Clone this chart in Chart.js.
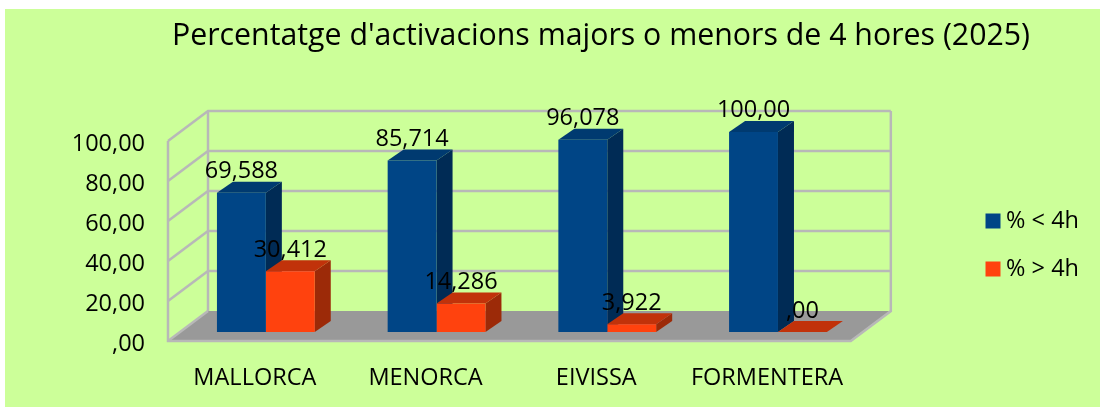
<!DOCTYPE html>
<html><head><meta charset="utf-8">
<style>html,body{margin:0;padding:0;background:#fff}#w{width:1100px;height:407px}</style>
<script src="https://cdn.jsdelivr.net/npm/chart.js@4/dist/chart.umd.min.js"></script>
</head><body><div id="w"><canvas id="c" width="1100" height="407"></canvas></div>
<script>
const titleText = "Percentatge d'activacions majors o menors de 4 hores (2025)";
const categories = ["MALLORCA","MENORCA","EIVISSA","FORMENTERA"];
const seriesNames = ["% < 4h","% > 4h"];
const under4h = [69.588,85.714,96.078,100];
const over4h = [30.412,14.286,3.922,0];
const under4hLabels = ["69,588","85,714","96,078","100,00"];
const over4hLabels = ["30,412","14,286","3,922",",00"];
const yTickLabels = {0:",00",20:"20,00",40:"40,00",60:"60,00",80:"80,00",100:"100,00"};
const FONT = "'Open Sans'";
const C = {bg:'#CCFF99',wall:'#B8B8B8',floor:'#999999',
  faces:[{front:'#004586',top:'#003A70',side:'#002B55'},{front:'#FF420E',top:'#C1320A',side:'#9C2A08'}]};
const WALL_D = {x:40,y:-30}, BAR_SHIFT = {x:12.5,y:-9}, BAR_D = {x:16,y:-11};
const valueLabels = [under4hLabels, over4hLabels];

function poly(ctx, pts, fill){ ctx.beginPath(); pts.forEach((p,i)=>i?ctx.lineTo(p[0],p[1]):ctx.moveTo(p[0],p[1])); ctx.closePath(); ctx.fillStyle=fill; ctx.fill(); }
function shiftLabels(chart, scale, dx, dy){
  if(scale._shifted) return; scale._shifted=true;
  const o=scale.drawLabels.bind(scale);
  scale.drawLabels=function(ca){ const c=chart.ctx; c.save(); c.translate(dx,dy); o(ca); c.restore(); };
}

const scene3d = {
  id:'scene3d',
  beforeDraw(chart){ const c=chart.ctx; c.save(); c.fillStyle=C.bg; c.fillRect(5,9,1095,398); c.restore(); },
  afterLayout(chart){
    const t=chart.titleBlock; t.left+=108.5; t.right+=108.5;
    const l=chart.legend; l.left=961; l.right=1079; l.top=170; l.bottom=320;
    shiftLabels(chart,chart.scales.y,0,3.5);
    shiftLabels(chart,chart.scales.x,1.5,0);
  },
  beforeDatasetsDraw(chart){
    const c=chart.ctx, a=chart.chartArea, y=chart.scales.y;
    c.save();
    const d=WALL_D;
    poly(c,[[a.left,a.bottom],[a.right,a.bottom],[a.right+d.x,a.bottom+d.y],[a.left+d.x,a.bottom+d.y]],C.floor);
    c.strokeStyle=C.wall; c.lineWidth=2.5;
    y.ticks.forEach(t=>{
      const py=y.getPixelForValue(t.value);
      c.beginPath(); c.moveTo(a.left,py); c.lineTo(a.left+d.x,py+d.y);
      if(t.value!==0){ c.lineTo(a.right+d.x,py+d.y);} c.stroke();
    });
    c.beginPath(); c.moveTo(a.left,a.top); c.lineTo(a.left,a.bottom); c.lineTo(a.right,a.bottom); c.lineTo(a.right+d.x,a.bottom+d.y); c.lineTo(a.right+d.x,a.top+d.y); c.stroke();
    c.beginPath(); c.moveTo(a.left+d.x,a.top+d.y); c.lineTo(a.left+d.x,a.bottom+d.y); c.stroke();
    c.translate(BAR_SHIFT.x,BAR_SHIFT.y);
    [0,1].forEach(ds=>{
      chart.getDatasetMeta(ds).data.forEach(b=>{
        const L=b.x-b.width/2,R=b.x+b.width/2,T=b.y,B=b.base,dx=BAR_D.x,dy=BAR_D.y;
        if(B-T>0.5) poly(c,[[R,T],[R+dx,T+dy],[R+dx,B+dy],[R,B]],C.faces[ds].side);
        poly(c,[[L,T],[R,T],[R+dx,T+dy],[L+dx,T+dy]],C.faces[ds].top);
      });
    });
    c.restore();
  },
  beforeDatasetDraw(chart){ chart.ctx.save(); chart.ctx.translate(BAR_SHIFT.x,BAR_SHIFT.y); },
  afterDatasetDraw(chart){ chart.ctx.restore(); },
  afterDatasetsDraw(chart){
    const c=chart.ctx;
    c.save(); c.fillStyle='#000'; c.font="23.5px "+FONT; c.textAlign='center'; c.textBaseline='alphabetic';
    [0,1].forEach(ds=>{
      chart.getDatasetMeta(ds).data.forEach((b,i)=>{
        c.fillText(valueLabels[ds][i], b.x+BAR_SHIFT.x, b.y+BAR_SHIFT.y-14.5);
      });
    });
    c.restore();
  }
};

new Chart(document.getElementById('c'),{
  type:'bar',
  data:{labels:categories,datasets:[
    {label:seriesNames[0],data:under4h,backgroundColor:C.faces[0].front,borderWidth:0},
    {label:seriesNames[1],data:over4h,backgroundColor:C.faces[1].front,borderWidth:0}
  ]},
  options:{
    responsive:false,animation:false,
    categoryPercentage:0.573,barPercentage:1,
    layout:{padding:{left:0,right:115,top:0,bottom:0}},
    plugins:{
      tooltip:{enabled:false},
      title:{display:true,text:titleText,color:'#000',font:{family:FONT,size:30.3,weight:'normal',lineHeight:1.2},padding:{top:18,bottom:86.6}},
      legend:{position:'right',labels:{color:'#000',font:{family:FONT,size:23.5},boxWidth:15,boxHeight:15,padding:24.5,textAlign:'right'}}
    },
    scales:{
      x:{grid:{display:false},border:{display:false},
         ticks:{color:'#000',font:{family:FONT,size:23.5},padding:15,maxRotation:0},
         afterFit(s){s.height=66;}},
      y:{min:0,max:100,grid:{display:false},border:{display:false},
         ticks:{stepSize:20,color:'#000',font:{family:FONT,size:23.5},padding:15,callback:v=>yTickLabels[v]},
         afterFit(s){s.width=168;}}
    }
  },
  plugins:[scene3d]
});
</script></body></html>
